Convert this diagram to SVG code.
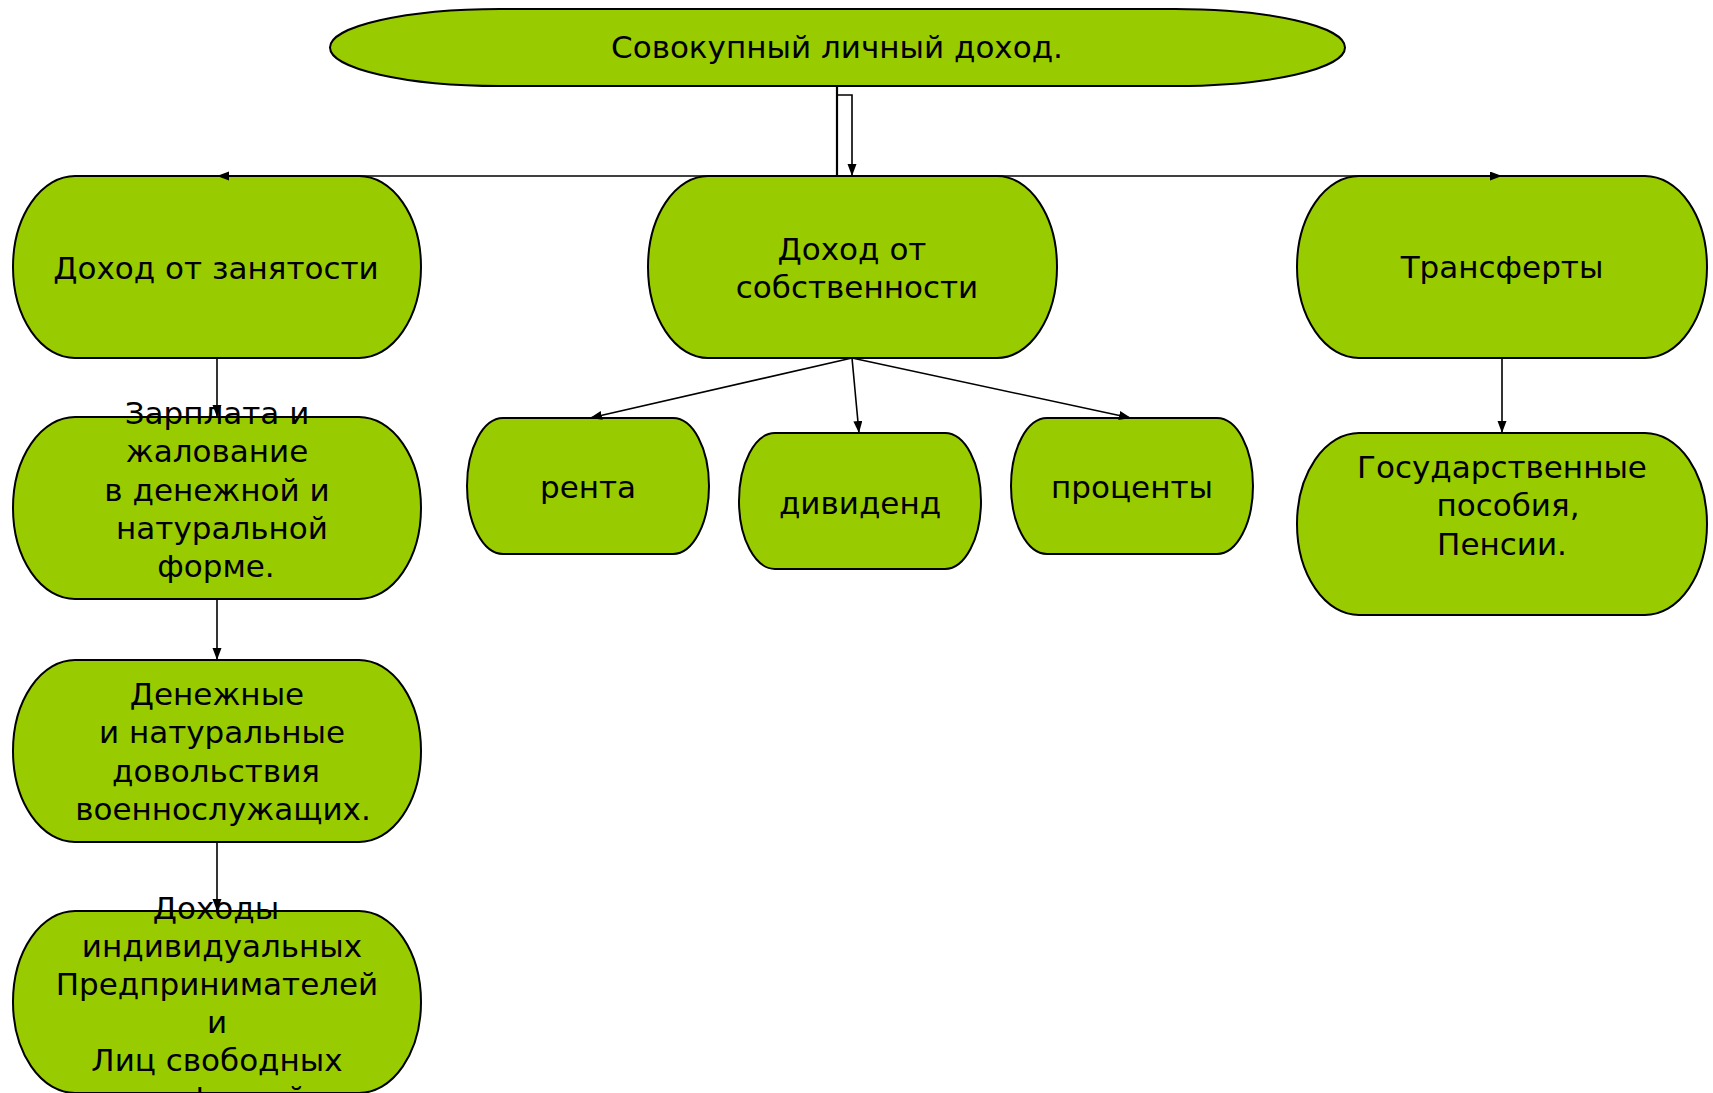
<svg xmlns="http://www.w3.org/2000/svg" width="1713" height="1093" viewBox="0 0 1713 1093">
  <style>
    .node { fill: #99CC00; stroke: #000000; stroke-width: 2; }
    .lbl { font-family: "DejaVu Sans", Verdana, "Liberation Sans", sans-serif; font-size: 31px; fill: #000000; text-anchor: middle; }
    .conn { fill: none; stroke: #000000; stroke-width: 1.6; }
    .thick { stroke-width: 2.2; }
  </style>
  <defs>
    <marker id="arrow" markerUnits="userSpaceOnUse" markerWidth="13" markerHeight="10" refX="12" refY="4.5" orient="auto">
      <path d="M0,0 L12,4.5 L0,9 z" fill="#000000"/>
    </marker>
  </defs>
  <rect width="1713" height="1093" fill="#FFFFFF"/>

  <g id="node-total">
    <rect class="node" x="330" y="9" width="1015" height="77" rx="170" ry="38.5"/>
    <text class="lbl" x="837" y="58">Совокупный личный доход.</text>
  </g>

  <g id="node-employment">
    <rect class="node" x="13" y="176" width="408" height="182" rx="62" ry="91"/>
    <text class="lbl" x="216" y="279">Доход от занятости</text>
  </g>

  <g id="node-property">
    <rect class="node" x="648" y="176" width="409" height="182" rx="60" ry="91"/>
    <text class="lbl" x="852" y="260">Доход от</text>
    <text class="lbl" x="857" y="298">собственности</text>
  </g>

  <g id="node-transfers">
    <rect class="node" x="1297" y="176" width="410" height="182" rx="62" ry="91"/>
    <text class="lbl" x="1502" y="278">Трансферты</text>
  </g>

  <g id="node-salary">
    <rect class="node" x="13" y="417" width="408" height="182" rx="62" ry="91"/>
    <text class="lbl" x="217" y="424">Зарплата и</text>
    <text class="lbl" x="217" y="462">жалование</text>
    <text class="lbl" x="217" y="501">в денежной и</text>
    <text class="lbl" x="222" y="539">натуральной</text>
    <text class="lbl" x="216" y="577">форме.</text>
  </g>

  <g id="node-military">
    <rect class="node" x="13" y="660" width="408" height="182" rx="62" ry="91"/>
    <text class="lbl" x="217" y="705">Денежные</text>
    <text class="lbl" x="222" y="743">и натуральные</text>
    <text class="lbl" x="216" y="782">довольствия</text>
    <text class="lbl" x="223" y="820">военнослужащих.</text>
  </g>

  <g id="node-entrepreneurs">
    <rect class="node" x="13" y="911" width="408" height="182" rx="62" ry="91"/>
    <text class="lbl" x="216" y="919">Доходы</text>
    <text class="lbl" x="222" y="957">индивидуальных</text>
    <text class="lbl" x="217" y="995">Предпринимателей</text>
    <text class="lbl" x="217" y="1033">и</text>
    <text class="lbl" x="217" y="1071">Лиц свободных</text>
    <text class="lbl" x="217" y="1109">профессий</text>
  </g>

  <g id="node-rent">
    <rect class="node" x="467" y="418" width="242" height="136" rx="36" ry="68"/>
    <text class="lbl" x="588" y="498">рента</text>
  </g>

  <g id="node-dividend">
    <rect class="node" x="739" y="433" width="242" height="136" rx="36" ry="68"/>
    <text class="lbl" x="860" y="514">дивиденд</text>
  </g>

  <g id="node-interest">
    <rect class="node" x="1011" y="418" width="242" height="136" rx="36" ry="68"/>
    <text class="lbl" x="1132" y="498">проценты</text>
  </g>

  <g id="node-benefits">
    <rect class="node" x="1297" y="433" width="410" height="182" rx="62" ry="91"/>
    <text class="lbl" x="1502" y="478">Государственные</text>
    <text class="lbl" x="1508" y="516">пособия,</text>
    <text class="lbl" x="1502" y="555">Пенсии.</text>
  </g>

  <g id="connectors">
    <path class="conn thick" d="M837,86 V176"/>
    <path class="conn" d="M837,95 H852 V176" marker-end="url(#arrow)"/>
    <path class="conn" d="M837,176 H217" marker-end="url(#arrow)"/>
    <path class="conn" d="M837,176 H1502" marker-end="url(#arrow)"/>
    <path class="conn" d="M217,358 V417" marker-end="url(#arrow)"/>
    <path class="conn" d="M217,599 V660" marker-end="url(#arrow)"/>
    <path class="conn" d="M217,842 V911" marker-end="url(#arrow)"/>
    <path class="conn" d="M1502,358 V433" marker-end="url(#arrow)"/>
    <path class="conn" d="M852,358 L590,418" marker-end="url(#arrow)"/>
    <path class="conn" d="M852,358 L859,433" marker-end="url(#arrow)"/>
    <path class="conn" d="M852,358 L1131,418" marker-end="url(#arrow)"/>
  </g>
</svg>
